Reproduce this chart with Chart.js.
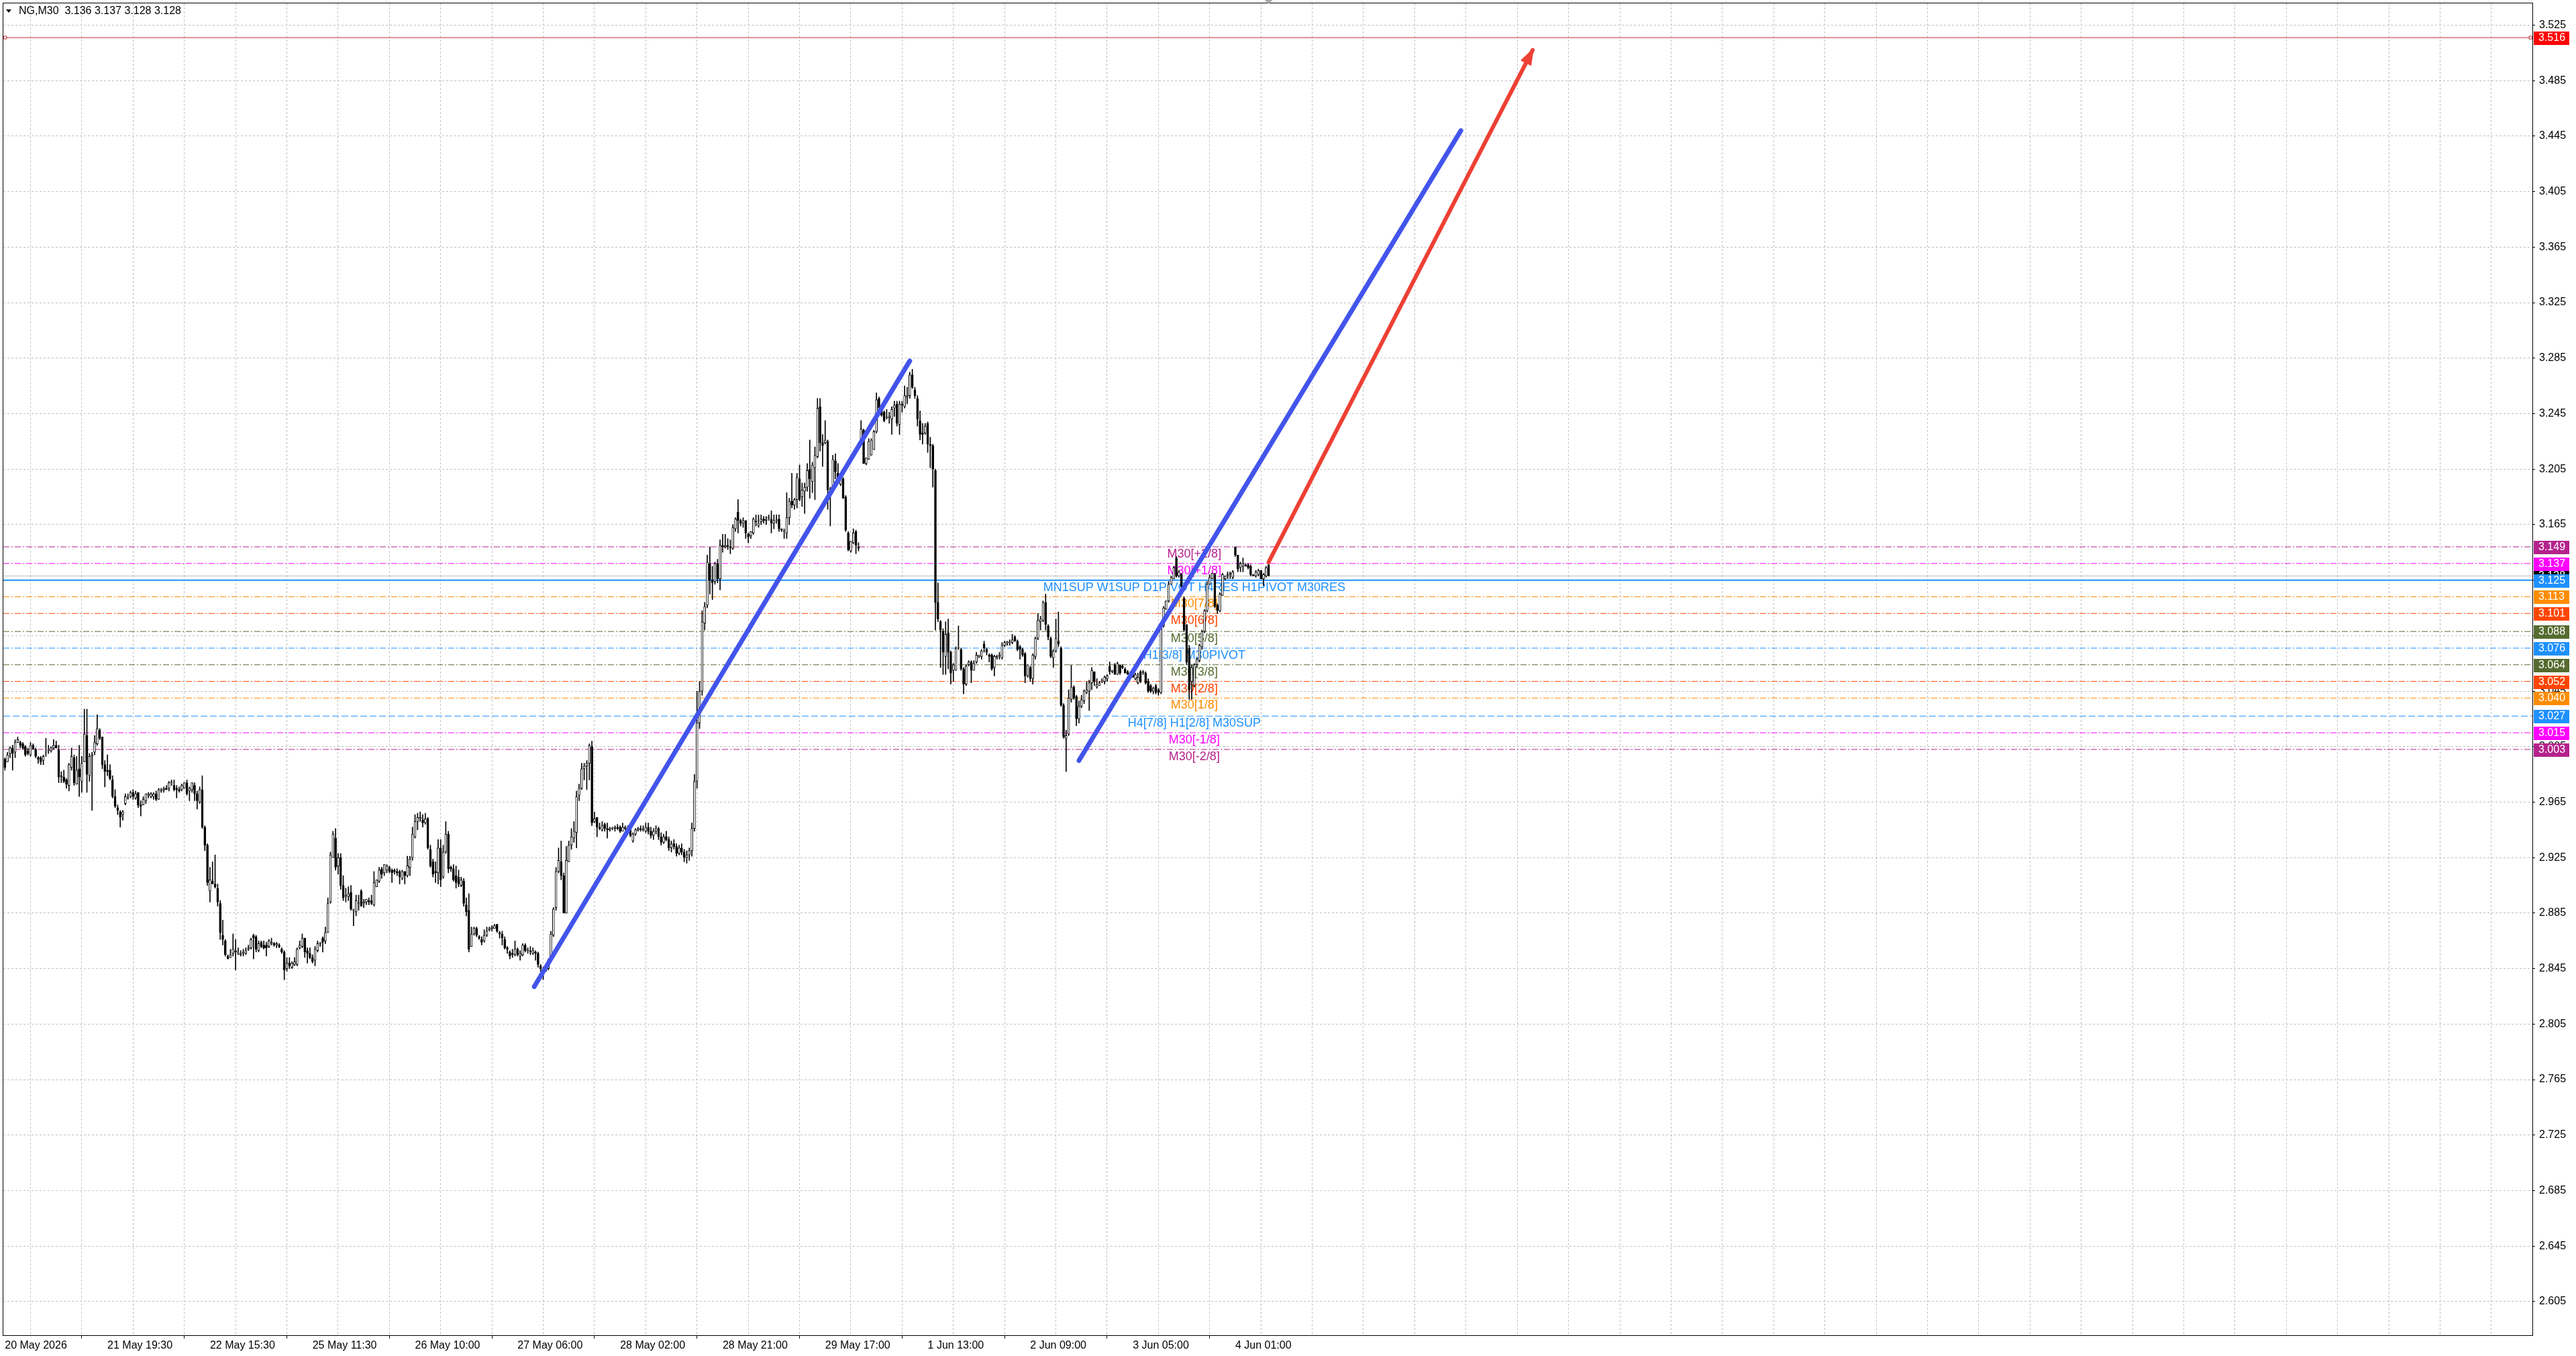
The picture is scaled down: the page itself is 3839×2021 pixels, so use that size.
<!DOCTYPE html>
<html>
<head>
<meta charset="utf-8">
<title>NG,M30</title>
<script src="https://cdn.jsdelivr.net/npm/chart.js@4.4.0/dist/chart.umd.min.js"></script>
<style>
  html, body { margin: 0; padding: 0; background: #fff; overflow: hidden; }
  canvas { display: block; }
</style>
</head>
<body>
<canvas id="chart" width="3839" height="2021"></canvas>
<script>
// ---- data ----
var symbol = "NG,M30";

// time axis labels, one every 40 bars starting at bar 0
var timeLabels = ["20 May 2026", "21 May 19:30", "22 May 15:30", "25 May 11:30", "26 May 10:00",
  "27 May 06:00", "28 May 02:00", "28 May 21:00", "29 May 17:00", "1 Jun 13:00",
  "2 Jun 09:00", "3 Jun 05:00", "4 Jun 01:00"];

var priceTicks = [3.525, 3.485, 3.445, 3.405, 3.365, 3.325, 3.285, 3.245, 3.205, 3.165, 3.125, 3.085,
  3.045, 3.005, 2.965, 2.925, 2.885, 2.845, 2.805, 2.765, 2.725, 2.685, 2.645, 2.605];

// candles as [open, high, low, close]
var ohlcMay20 = [
  [2.996,2.997,2.988,2.990],[2.994,3.001,2.994,2.999],[3.000,3.005,2.997,3.004],[3.004,3.006,2.988,3.000],
  [3.001,3.010,2.997,3.008],[3.008,3.012,3.008,3.010],[3.008,3.009,3.004,3.006],[3.007,3.008,3.003,3.004],
  [3.005,3.006,2.998,2.999],[3.002,3.004,2.999,3.000],[2.999,3.008,2.998,3.006],[3.006,3.007,3.003,3.003],
  [3.003,3.004,2.997,2.998],[2.997,2.998,2.993,2.996],[2.997,2.998,2.992,2.994],[2.995,2.999,2.992,2.998],
  [3.001,3.011,2.998,3.001],[3.002,3.006,3.000,3.002],[3.002,3.005,3.001,3.004],[3.004,3.010,3.003,3.006],
  [3.006,3.009,3.004,3.004],[3.003,3.006,2.979,2.983],[2.983,2.987,2.979,2.984],[2.983,2.988,2.979,2.980],
  [2.981,2.982,2.975,2.978],[2.977,2.993,2.973,2.992],[2.990,3.004,2.988,2.998],[2.997,2.999,2.977,2.979],
  [2.978,2.998,2.978,2.988],[2.989,3.006,2.969,2.983],[2.980,2.998,2.972,2.993],[2.994,3.032,2.994,3.014],
  [3.013,3.032,2.972,2.985],[2.984,3.000,2.980,2.998],[2.998,3.001,2.959,2.999],[3.001,3.013,2.999,3.008],
  [3.007,3.028,3.006,3.018],[3.017,3.018,3.010,3.011],[3.012,3.012,2.989,2.992],[2.992,2.995,2.976,2.987],
  [2.988,2.999,2.984,2.987],[2.988,2.992,2.981,2.982],[2.981,2.984,2.968,2.969],[2.969,2.974,2.961,2.962],
  [2.961,2.963,2.956,2.959],[2.958,2.959,2.947,2.954],[2.956,2.959,2.952,2.958],[2.964,2.971,2.963,2.969],
  [2.968,2.971,2.967,2.968],[2.969,2.973,2.968,2.972],[2.972,2.974,2.967,2.969],[2.968,2.973,2.967,2.971],
  [2.972,2.972,2.961,2.963],[2.963,2.966,2.955,2.962],[2.963,2.969,2.963,2.967],[2.966,2.971,2.964,2.971],
  [2.970,2.972,2.968,2.971],[2.969,2.972,2.968,2.971],[2.969,2.972,2.967,2.971],[2.971,2.973,2.966,2.967],
  [2.967,2.975,2.967,2.974],[2.973,2.975,2.972,2.974],[2.974,2.976,2.972,2.975],[2.975,2.977,2.974,2.974],
  [2.975,2.980,2.973,2.979],[2.979,2.981,2.977,2.979],[2.977,2.981,2.973,2.974],[2.975,2.977,2.968,2.974],
  [2.974,2.976,2.972,2.973],[2.974,2.978,2.973,2.977],[2.975,2.979,2.975,2.979],[2.979,2.981,2.970,2.971],
  [2.973,2.976,2.966,2.975],[2.974,2.979,2.972,2.979],[2.977,2.979,2.966,2.971],[2.971,2.973,2.960,2.966],
  [2.965,2.976,2.964,2.974],[2.974,2.984,2.946,2.947],[2.947,2.948,2.930,2.934]
];
var ohlcMay22 = [
  [2.934,2.935,2.905,2.907],[2.901,2.918,2.893,2.909],[2.908,2.922,2.906,2.906],[2.906,2.927,2.903,2.904],
  [2.903,2.906,2.890,2.893],[2.892,2.894,2.866,2.871],[2.869,2.880,2.862,2.866],[2.865,2.866,2.854,2.855],
  [2.854,2.855,2.852,2.852],[2.853,2.859,2.853,2.855],[2.856,2.870,2.854,2.859],[2.858,2.866,2.844,2.857],
  [2.856,2.860,2.855,2.856],[2.855,2.858,2.854,2.856],[2.856,2.859,2.854,2.857],[2.856,2.860,2.855,2.858],
  [2.859,2.862,2.858,2.860],[2.860,2.867,2.859,2.866],[2.869,2.870,2.852,2.867],[2.868,2.869,2.857,2.859],
  [2.858,2.865,2.857,2.863],[2.864,2.865,2.860,2.861],[2.862,2.865,2.859,2.860],[2.862,2.864,2.854,2.860],
  [2.861,2.866,2.860,2.865],[2.863,2.867,2.862,2.864],[2.863,2.864,2.861,2.862],[2.862,2.864,2.860,2.863],
  [2.862,2.863,2.860,2.861],[2.859,2.860,2.856,2.857],[2.857,2.858,2.837,2.844],[2.845,2.853,2.843,2.849],
  [2.849,2.853,2.845,2.847],[2.846,2.850,2.845,2.849],[2.848,2.853,2.847,2.850],[2.848,2.860,2.847,2.859],
  [2.860,2.865,2.859,2.862],[2.861,2.870,2.860,2.867],[2.867,2.867,2.853,2.857],[2.858,2.860,2.849,2.856],
  [2.856,2.860,2.852,2.853],[2.853,2.855,2.849,2.850],[2.851,2.861,2.847,2.859],[2.858,2.865,2.857,2.863],
  [2.863,2.864,2.861,2.863],[2.867,2.868,2.857,2.864],[2.865,2.875,2.863,2.871],[2.871,2.896,2.871,2.892],
  [2.893,2.929,2.892,2.927],[2.925,2.944,2.925,2.942],[2.939,2.946,2.916,2.918],[2.919,2.928,2.913,2.925],
  [2.925,2.928,2.902,2.905],[2.905,2.912,2.894,2.896],[2.897,2.903,2.893,2.898],[2.897,2.904,2.894,2.899],
  [2.900,2.905,2.887,2.888],[2.887,2.888,2.876,2.887],[2.886,2.898,2.883,2.894],[2.892,2.898,2.887,2.892],
  [2.901,2.902,2.890,2.890],[2.892,2.895,2.889,2.893],[2.893,2.895,2.891,2.895],[2.894,2.896,2.891,2.893],
  [2.894,2.898,2.891,2.892],[2.891,2.915,2.890,2.907],[2.904,2.909,2.904,2.909],[2.908,2.918,2.907,2.916],
  [2.917,2.918,2.910,2.913],[2.914,2.920,2.912,2.920],[2.916,2.920,2.914,2.919],[2.918,2.919,2.914,2.915],
  [2.916,2.917,2.907,2.914],[2.916,2.917,2.913,2.915],[2.915,2.917,2.912,2.914],[2.915,2.916,2.906,2.911],
  [2.910,2.916,2.909,2.915],[2.915,2.915,2.906,2.912],[2.912,2.926,2.911,2.919],[2.918,2.926,2.912,2.924],
  [2.925,2.947,2.923,2.942],[2.940,2.956,2.939,2.951],[2.951,2.957,2.945,2.954],[2.953,2.958,2.951,2.954],
  [2.952,2.956,2.947,2.950],[2.950,2.957,2.949,2.953],[2.953,2.954,2.931,2.932]
];
var ohlcMay26 = [
  [2.931,2.934,2.918,2.919],[2.922,2.924,2.911,2.913],[2.915,2.922,2.907,2.914],[2.914,2.938,2.906,2.932],
  [2.932,2.938,2.904,2.909],[2.911,2.934,2.910,2.929],[2.929,2.951,2.928,2.942],[2.942,2.944,2.914,2.917],
  [2.918,2.919,2.915,2.917],[2.917,2.920,2.908,2.909],[2.912,2.919,2.903,2.907],[2.911,2.916,2.904,2.906],
  [2.905,2.911,2.904,2.909],[2.908,2.910,2.890,2.892],[2.891,2.896,2.883,2.886],[2.887,2.899,2.857,2.859],
  [2.861,2.875,2.861,2.870],[2.870,2.875,2.869,2.874],[2.874,2.875,2.868,2.869],[2.868,2.869,2.866,2.867],
  [2.866,2.868,2.862,2.864],[2.865,2.873,2.864,2.869],[2.869,2.875,2.868,2.872],[2.873,2.875,2.872,2.874],
  [2.874,2.876,2.872,2.875],[2.874,2.877,2.874,2.876],[2.877,2.877,2.871,2.872],[2.871,2.872,2.867,2.870],
  [2.870,2.872,2.862,2.867],[2.866,2.868,2.859,2.860],[2.860,2.861,2.856,2.859],[2.857,2.858,2.852,2.854],
  [2.856,2.859,2.853,2.855],[2.855,2.865,2.854,2.859],[2.859,2.860,2.854,2.855],[2.854,2.858,2.851,2.856],
  [2.855,2.863,2.854,2.862],[2.862,2.863,2.857,2.858],[2.858,2.860,2.856,2.858],[2.858,2.861,2.855,2.857],
  [2.856,2.860,2.855,2.858],[2.857,2.858,2.851,2.856],[2.856,2.857,2.846,2.848],[2.847,2.848,2.843,2.845],
  [2.842,2.846,2.837,2.844],[2.843,2.848,2.843,2.846],[2.845,2.852,2.844,2.851],[2.851,2.872,2.851,2.870],
  [2.869,2.889,2.868,2.888],[2.889,2.918,2.887,2.915],[2.915,2.932,2.914,2.923],[2.922,2.937,2.909,2.912],
  [2.912,2.914,2.885,2.885],[2.885,2.933,2.885,2.923],[2.922,2.937,2.922,2.934],[2.934,2.946,2.931,2.940],
  [2.939,2.951,2.936,2.944],[2.943,2.973,2.932,2.969],[2.970,2.978,2.966,2.975],[2.975,2.993,2.974,2.989],
  [2.989,2.993,2.981,2.991],[2.991,2.995,2.974,2.993],[2.993,3.007,2.981,3.006],[3.005,3.009,2.948,2.950],
  [2.951,2.958,2.950,2.953],[2.954,2.954,2.940,2.947],[2.947,2.950,2.945,2.946],[2.945,2.951,2.944,2.948],
  [2.949,2.950,2.944,2.946],[2.946,2.950,2.939,2.945],[2.945,2.947,2.944,2.946],[2.946,2.947,2.945,2.946],
  [2.946,2.948,2.944,2.947],[2.947,2.949,2.945,2.946],[2.947,2.948,2.943,2.944],[2.944,2.950,2.944,2.947],
  [2.946,2.948,2.945,2.947],[2.946,2.948,2.945,2.946],[2.945,2.946,2.940,2.941],[2.937,2.943,2.936,2.942],
  [2.942,2.946,2.941,2.945],[2.945,2.947,2.944,2.946],[2.946,2.948,2.944,2.945],[2.945,2.948,2.944,2.946],
  [2.944,2.950,2.943,2.947]
];
var ohlcMay28 = [
  [2.947,2.950,2.942,2.944],[2.944,2.947,2.939,2.941],[2.941,2.946,2.938,2.944],[2.944,2.948,2.942,2.946],
  [2.946,2.947,2.938,2.940],[2.940,2.943,2.934,2.936],[2.936,2.942,2.935,2.940],[2.940,2.944,2.937,2.938],
  [2.938,2.940,2.930,2.932],[2.932,2.937,2.929,2.935],[2.935,2.938,2.931,2.933],[2.933,2.935,2.926,2.928],
  [2.928,2.934,2.927,2.932],[2.932,2.935,2.927,2.929],[2.929,2.931,2.922,2.925],[2.925,2.930,2.921,2.927],
  [2.927,2.932,2.923,2.930],[2.930,2.950,2.926,2.946],[2.946,2.985,2.944,2.980],[2.980,3.045,2.975,3.022],
  [3.022,3.052,3.018,3.045],[3.045,3.103,3.042,3.095],[3.094,3.109,3.089,3.106],[3.107,3.143,3.105,3.138],
  [3.137,3.149,3.115,3.125],[3.125,3.135,3.111,3.123],[3.124,3.138,3.122,3.137],[3.137,3.140,3.123,3.126],
  [3.126,3.154,3.118,3.150],[3.150,3.158,3.145,3.149],[3.149,3.158,3.148,3.150],[3.150,3.155,3.147,3.149],
  [3.149,3.154,3.144,3.148],[3.148,3.165,3.147,3.163],[3.162,3.170,3.160,3.169],[3.174,3.183,3.159,3.168],
  [3.168,3.169,3.164,3.166],[3.166,3.170,3.163,3.168],[3.168,3.168,3.155,3.159],[3.158,3.159,3.152,3.156],
  [3.157,3.160,3.155,3.160],[3.159,3.170,3.158,3.169],[3.167,3.172,3.164,3.168],[3.164,3.172,3.163,3.166],
  [3.167,3.172,3.165,3.169],[3.169,3.171,3.166,3.168],[3.168,3.171,3.165,3.169],[3.170,3.172,3.168,3.170],
  [3.169,3.175,3.159,3.166],[3.166,3.172,3.162,3.168],[3.168,3.172,3.166,3.168],[3.169,3.172,3.160,3.162],
  [3.162,3.162,3.160,3.161],[3.160,3.162,3.155,3.160],[3.159,3.188,3.155,3.170],[3.170,3.184,3.165,3.182],
  [3.182,3.202,3.177,3.179],[3.179,3.184,3.176,3.183],[3.183,3.202,3.177,3.199],[3.198,3.208,3.182,3.183],
  [3.185,3.195,3.178,3.190],[3.189,3.195,3.173,3.192],[3.192,3.209,3.189,3.204],[3.205,3.226,3.184,3.198],
  [3.196,3.210,3.188,3.208],[3.206,3.221,3.183,3.215],[3.214,3.256,3.213,3.249],[3.250,3.256,3.218,3.224],
  [3.224,3.230,3.207,3.222],[3.224,3.240,3.223,3.226],[3.225,3.226,3.176,3.190],[3.189,3.192,3.164,3.191],
  [3.192,3.215,3.191,3.212],[3.211,3.216,3.198,3.203],[3.202,3.209,3.195,3.198],[3.194,3.200,3.193,3.199],
  [3.198,3.199,3.184,3.184],[3.185,3.186,3.160,3.161],[3.159,3.160,3.146,3.147],[3.146,3.153,3.145,3.153],
  [3.152,3.162,3.151,3.159],[3.160,3.161,3.144,3.150],[3.149,3.152,3.146,3.148]
];
var ohlcJun1 = [
  [3.223,3.240,3.222,3.234],[3.233,3.234,3.209,3.209],[3.209,3.213,3.208,3.213],[3.212,3.227,3.212,3.225],
  [3.215,3.227,3.215,3.226],[3.219,3.233,3.219,3.232],[3.232,3.260,3.231,3.255],[3.256,3.257,3.248,3.249],
  [3.249,3.250,3.243,3.244],[3.246,3.247,3.239,3.240],[3.242,3.248,3.241,3.242],[3.242,3.246,3.238,3.243],
  [3.241,3.250,3.230,3.248],[3.249,3.254,3.243,3.251],[3.252,3.254,3.236,3.238],[3.237,3.254,3.230,3.252],
  [3.252,3.254,3.246,3.251],[3.250,3.265,3.249,3.258],[3.257,3.264,3.252,3.258],[3.258,3.275,3.256,3.273],
  [3.273,3.277,3.263,3.264],[3.262,3.264,3.256,3.258],[3.256,3.258,3.236,3.241],[3.240,3.247,3.226,3.230],
  [3.231,3.238,3.223,3.230],[3.231,3.238,3.230,3.236],[3.238,3.239,3.217,3.223],[3.223,3.228,3.206,3.222],
  [3.222,3.223,3.192,3.205],[3.204,3.205,3.089,3.109],[3.109,3.123,3.095,3.097],[3.095,3.096,3.062,3.089],
  [3.088,3.090,3.057,3.073],[3.070,3.095,3.057,3.086],[3.087,3.097,3.061,3.073],[3.073,3.074,3.050,3.058],
  [3.060,3.065,3.052,3.064],[3.060,3.077,3.060,3.076],[3.076,3.092,3.075,3.076],[3.075,3.076,3.060,3.061],
  [3.061,3.062,3.043,3.050],[3.050,3.064,3.049,3.063],[3.064,3.067,3.063,3.066],[3.066,3.067,3.051,3.060],
  [3.060,3.067,3.060,3.065],[3.066,3.073,3.065,3.071],[3.070,3.071,3.069,3.070],[3.070,3.075,3.068,3.074],
  [3.079,3.081,3.073,3.076],[3.075,3.076,3.071,3.073],[3.071,3.072,3.066,3.070],[3.071,3.072,3.060,3.061],
  [3.062,3.071,3.056,3.070],[3.069,3.071,3.068,3.070],[3.070,3.073,3.068,3.071],[3.069,3.080,3.068,3.078],
  [3.078,3.081,3.077,3.080],[3.080,3.081,3.078,3.080],[3.080,3.082,3.078,3.080],[3.080,3.086,3.079,3.082],
  [3.084,3.085,3.081,3.081],[3.081,3.082,3.074,3.075],[3.077,3.078,3.068,3.075],[3.075,3.076,3.070,3.071],
  [3.072,3.073,3.051,3.056],[3.056,3.064,3.055,3.064],[3.062,3.063,3.052,3.054],[3.054,3.072,3.050,3.071],
  [3.070,3.084,3.068,3.083],[3.083,3.101,3.082,3.096],[3.095,3.099,3.089,3.097],[3.096,3.110,3.095,3.109],
  [3.109,3.115,3.089,3.093],[3.092,3.093,3.082,3.084],[3.083,3.084,3.069,3.070],[3.069,3.075,3.062,3.074],
  [3.074,3.097,3.073,3.083],[3.081,3.102,3.077,3.079],[3.076,3.077,3.034,3.035],[3.035,3.036,3.011,3.012],
  [3.011,3.017,2.987,3.013],[3.014,3.046,3.013,3.040],[3.039,3.064,3.037,3.048]
];
var ohlcJun2 = [
  [3.048,3.049,3.039,3.040],[3.041,3.042,3.020,3.025],[3.025,3.038,3.022,3.034],[3.034,3.042,3.033,3.039],
  [3.038,3.046,3.036,3.045],[3.044,3.052,3.043,3.046],[3.045,3.053,3.031,3.051],[3.051,3.062,3.046,3.060],
  [3.059,3.059,3.049,3.052],[3.048,3.054,3.047,3.050],[3.049,3.052,3.049,3.051],[3.052,3.054,3.051,3.052],
  [3.052,3.056,3.050,3.055],[3.054,3.057,3.052,3.056],[3.063,3.066,3.057,3.059],[3.059,3.060,3.058,3.060],
  [3.064,3.065,3.057,3.057],[3.057,3.066,3.057,3.065],[3.064,3.064,3.057,3.058],[3.063,3.064,3.061,3.062],
  [3.061,3.062,3.058,3.058],[3.059,3.060,3.057,3.057],[3.057,3.059,3.055,3.058],[3.058,3.059,3.055,3.055],
  [3.054,3.058,3.053,3.057],[3.051,3.058,3.050,3.055],[3.059,3.060,3.051,3.052],[3.058,3.060,3.057,3.059],
  [3.058,3.059,3.050,3.051],[3.052,3.054,3.044,3.045],[3.049,3.050,3.044,3.045],[3.045,3.048,3.043,3.047],
  [3.049,3.050,3.043,3.044],[3.046,3.047,3.042,3.044],[3.044,3.093,3.043,3.092],[3.092,3.106,3.091,3.105],
  [3.104,3.110,3.104,3.110],[3.110,3.124,3.109,3.122],[3.122,3.128,3.122,3.127],[3.126,3.135,3.126,3.134],
  [3.141,3.142,3.127,3.128],[3.128,3.132,3.127,3.131],[3.129,3.130,3.117,3.120],[3.112,3.113,3.088,3.089],
  [3.093,3.093,3.064,3.066],[3.076,3.078,3.039,3.046],[3.052,3.064,3.039,3.062],[3.049,3.065,3.048,3.064],
  [3.064,3.069,3.062,3.068],[3.067,3.079,3.066,3.078],[3.077,3.089,3.075,3.088],[3.088,3.104,3.087,3.103],
  [3.103,3.124,3.102,3.122],[3.122,3.129,3.122,3.127],[3.126,3.130,3.126,3.130],[3.129,3.130,3.105,3.106],
  [3.107,3.108,3.101,3.103],[3.103,3.116,3.102,3.115],[3.114,3.130,3.114,3.129],[3.126,3.128,3.125,3.128],
  [3.128,3.131,3.126,3.129],[3.129,3.131,3.126,3.130],[3.127,3.132,3.126,3.131],[3.149,3.149,3.142,3.143],
  [3.143,3.143,3.131,3.133],[3.134,3.138,3.131,3.137],[3.135,3.141,3.131,3.137],[3.136,3.137,3.135,3.135],
  [3.136,3.137,3.133,3.134],[3.135,3.136,3.128,3.129],[3.129,3.129,3.128,3.128],[3.128,3.132,3.127,3.131],
  [3.129,3.133,3.128,3.132],[3.132,3.132,3.126,3.126],[3.126,3.130,3.121,3.129],[3.128,3.135,3.127,3.134],
  [3.136,3.137,3.128,3.128]
];

// horizontal levels (Murrey-style) and their names
var levelPrices = [3.149, 3.137, 3.125, 3.113, 3.101, 3.088, 3.076, 3.064, 3.052, 3.040, 3.027, 3.015, 3.003];
var levelNames = ["M30[+2/8]", "M30[+1/8]", "MN1SUP W1SUP D1PIVOT H4RES H1PIVOT M30RES", "M30[7/8]",
  "M30[6/8]", "M30[5/8]", "H1[3/8] M30PIVOT", "M30[3/8]", "M30[2/8]", "M30[1/8]",
  "H4[7/8] H1[2/8] M30SUP", "M30[-1/8]", "M30[-2/8]"];
var alertPrice = 3.516;

// drawn trend lines, in (bar, price)
var trendOneBars = [206.5, 353], trendOnePrices = [2.832, 3.283];
var trendTwoBars = [419, 568], trendTwoPrices = [2.995, 3.449];
var arrowBars = [493, 596], arrowPrices = [3.138, 3.507];

// ---- styles ----
var dashDot = [9, 3, 2, 3];
var levelColors = ['#B4228C', '#FF00FF', '#1E90FF', '#FF8C00', '#FF4500', '#556B2F', '#1E90FF',
  '#556B2F', '#FF4500', '#FF8C00', '#1E90FF', '#FF00FF', '#B4228C'];
var levelDash = [dashDot, dashDot, [], dashDot, dashDot, dashDot, dashDot, dashDot, dashDot, dashDot,
  [10, 4], dashDot, dashDot];
var levelWidth = [1, 1, 2, 1, 1, 1, 1, 1, 1, 1, 1, 1, 1];
var trendBlue = '#4254EB';
var arrowRed = '#EE4034';
var gridColor = '#C0C0C0';
var xMin = -0.6, xMax = 986, yMin = 2.5808, yMax = 3.5407;
var labelStep = 40, gridStep = 20, levelLabelBar = 464;

// ---- build datasets ----
var candles = [].concat(ohlcMay20, ohlcMay22, ohlcMay26, ohlcMay28, ohlcJun1, ohlcJun2);
var lastBar = candles[candles.length - 1];

var wickData = candles.map(function (c, i) { return { x: i, y: [c[2], c[1]] }; });
var bodyData = candles.map(function (c, i) {
  return { x: i, y: [Math.min(c[0], c[3]), Math.max(c[0], c[3])] };
});
var bodyFill = candles.map(function (c) { return c[3] >= c[0] ? '#FFFFFF' : '#000000'; });

function flatLine(price) {
  return [{ x: xMin, y: price }, { x: xMax, y: price }];
}
function twoPoints(bars, prices) {
  return [{ x: bars[0], y: prices[0] }, { x: bars[1], y: prices[1] }];
}

var datasets = [];
levelPrices.forEach(function (p, k) {
  datasets.push({
    type: 'line', data: flatLine(p), borderColor: levelColors[k], borderWidth: levelWidth[k],
    borderDash: levelDash[k], pointRadius: 0, fill: false, order: 10
  });
});
datasets.push({
  type: 'line', data: flatLine(lastBar[3]), borderColor: '#BDBDBD', borderWidth: 1,
  pointRadius: 0, fill: false, order: 9
});
datasets.push({
  type: 'line', data: [{ x: xMin + 0.7, y: alertPrice }, { x: xMax - 0.7, y: alertPrice }],
  borderColor: '#C0282D', borderWidth: 1, pointStyle: 'rect', pointRadius: 3,
  pointBorderColor: '#C0282D', pointBackgroundColor: '#FFFFFF', pointBorderWidth: 1, fill: false, order: 9
});
datasets.push({
  type: 'bar', data: wickData, backgroundColor: '#000000', borderWidth: 0,
  barThickness: 1, grouped: false, order: 5
});
datasets.push({
  type: 'bar', data: bodyData, backgroundColor: bodyFill, borderColor: '#000000', borderWidth: 1,
  borderSkipped: false, barThickness: 3, minBarLength: 1, grouped: false, order: 4
});
datasets.push({
  type: 'line', data: twoPoints(trendOneBars, trendOnePrices), borderColor: trendBlue, borderWidth: 7,
  borderCapStyle: 'round', pointRadius: 0, fill: false, order: 1
});
datasets.push({
  type: 'line', data: twoPoints(trendTwoBars, trendTwoPrices), borderColor: trendBlue, borderWidth: 7,
  borderCapStyle: 'round', pointRadius: 0, fill: false, order: 1
});
var arrowIndex = datasets.length;
datasets.push({
  type: 'line', data: twoPoints(arrowBars, arrowPrices), borderColor: arrowRed, borderWidth: 6,
  borderCapStyle: 'round', pointRadius: 0, fill: false, order: 1
});

// ---- overlay: level names, arrow head, frame, price boxes, header ----
var overlay = {
  id: 'overlay',
  beforeDatasetsDraw: function (chart) {
    var ctx = chart.ctx, xs = chart.scales.x, ys = chart.scales.y;
    ctx.save();
    ctx.font = "18px 'Liberation Sans', Arial, sans-serif";
    ctx.textAlign = 'center';
    ctx.textBaseline = 'top';
    levelPrices.forEach(function (p, k) {
      ctx.fillStyle = levelColors[k];
      ctx.fillText(levelNames[k], xs.getPixelForValue(levelLabelBar), ys.getPixelForValue(p) + 2);
    });
    ctx.restore();
  },
  afterDatasetsDraw: function (chart) {
    var ctx = chart.ctx;
    var pts = chart.getDatasetMeta(arrowIndex).data;
    var a = pts[0], b = pts[1];
    var ang = Math.atan2(b.y - a.y, b.x - a.x);
    var len = 22, half = 9;
    var bx = b.x - Math.cos(ang) * len, by = b.y - Math.sin(ang) * len;
    ctx.save();
    ctx.fillStyle = arrowRed;
    ctx.beginPath();
    ctx.moveTo(b.x + Math.cos(ang) * 4, b.y + Math.sin(ang) * 4);
    ctx.lineTo(bx + Math.sin(ang) * half, by - Math.cos(ang) * half);
    ctx.lineTo(bx - Math.sin(ang) * half, by + Math.cos(ang) * half);
    ctx.closePath();
    ctx.fill();
    ctx.restore();
  },
  afterDraw: function (chart) {
    var ctx = chart.ctx, area = chart.chartArea, ys = chart.scales.y, xs = chart.scales.x;
    ctx.save();
    // frame
    ctx.strokeStyle = '#000000';
    ctx.lineWidth = 1;
    ctx.strokeRect(area.left - 0.5, area.top - 0.5, area.right - area.left + 1, area.bottom - area.top + 1);

    // price boxes on the right axis
    ctx.font = "16px 'Liberation Sans', Arial, sans-serif";
    ctx.textAlign = 'left';
    ctx.textBaseline = 'middle';
    function box(price, color) {
      var y = Math.round(ys.getPixelForValue(price)) + 1;
      ctx.fillStyle = color;
      ctx.fillRect(area.right + 2, y - 10, 53, 20);
      ctx.fillStyle = '#FFFFFF';
      ctx.fillText(price.toFixed(3), area.right + 9, y);
    }
    box(lastBar[3], '#000000');
    for (var k = levelPrices.length - 1; k >= 0; k--) { box(levelPrices[k], levelColors[k]); }
    box(alertPrice, '#FF0000');

    // header
    ctx.fillStyle = '#000000';
    ctx.beginPath();
    ctx.moveTo(9, 14); ctx.lineTo(17, 14); ctx.lineTo(13, 19); ctx.closePath();
    ctx.fill();
    ctx.textBaseline = 'middle';
    ctx.fillText(symbol + '  ' + lastBar.map(function (v) { return v.toFixed(3); }).join(' '), 28, 17);

    // chart shift marker
    var sx = xs.getPixelForValue(candles.length - 1);
    ctx.fillStyle = '#A8A8A8';
    ctx.beginPath();
    ctx.moveTo(sx - 6, 0); ctx.lineTo(sx + 6, 0); ctx.lineTo(sx, 6); ctx.closePath();
    ctx.fill();
    ctx.restore();
  }
};

function isLabelTick(v) {
  return v % labelStep === 0 && v / labelStep < timeLabels.length;
}

Chart.defaults.font.family = "'Liberation Sans', Arial, sans-serif";
Chart.defaults.font.size = 16;
Chart.defaults.color = '#000000';

new Chart(document.getElementById('chart').getContext('2d'), {
  type: 'bar',
  data: { datasets: datasets },
  plugins: [overlay],
  options: {
    responsive: false,
    animation: false,
    devicePixelRatio: 1,
    events: [],
    layout: { padding: { left: 3, top: 4, right: 0, bottom: 0 } },
    plugins: { legend: { display: false }, tooltip: { enabled: false } },
    scales: {
      x: {
        type: 'linear', position: 'bottom', min: xMin, max: xMax, offset: false,
        afterBuildTicks: function (s) {
          var t = [];
          for (var v = 0; v <= xMax; v += gridStep) t.push({ value: v });
          s.ticks = t;
        },
        afterFit: function (s) { s.height = 31; s.paddingLeft = 0; s.paddingRight = 0; },
        ticks: {
          autoSkip: false, maxRotation: 0, minRotation: 0, align: 'start', padding: 1,
          callback: function (v) { return isLabelTick(v) ? timeLabels[v / labelStep] : ''; }
        },
        grid: {
          color: function (c) { return c.tick && c.tick.value === 0 ? 'rgba(0,0,0,0)' : gridColor; },
          lineWidth: 1, drawTicks: true, tickLength: 5,
          tickColor: function (c) { return c.tick && isLabelTick(c.tick.value) ? '#000000' : 'rgba(0,0,0,0)'; }
        },
        border: { display: false, dash: [3, 3] }
      },
      y: {
        type: 'linear', position: 'right', min: yMin, max: yMax,
        afterBuildTicks: function (s) { s.ticks = priceTicks.map(function (v) { return { value: v }; }); },
        afterFit: function (s) { s.width = 65; s.paddingTop = 0; s.paddingBottom = 0; },
        ticks: { padding: 6, callback: function (v) { return v.toFixed(3); } },
        grid: { color: gridColor, lineWidth: 1, drawTicks: true, tickLength: 4, tickColor: '#000000' },
        border: { display: false, dash: [3, 3] }
      }
    }
  }
});
</script>
</body>
</html>
